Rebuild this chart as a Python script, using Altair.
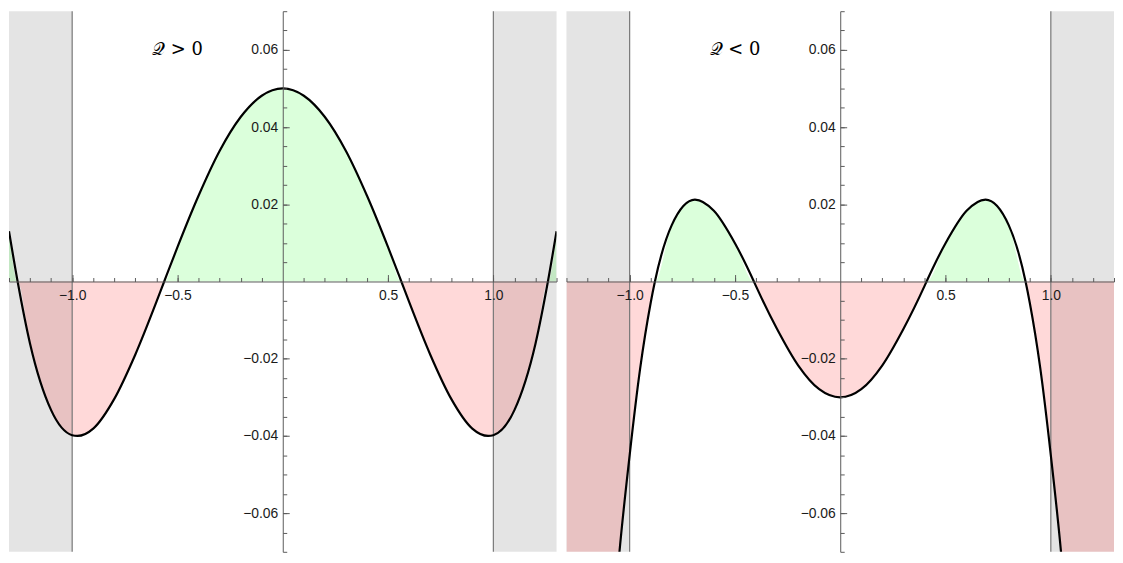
import altair as alt
import pandas as pd
import numpy as np

# ---------------- data ----------------
# Panel 1  (Q > 0)
left_x = [-1.3, -1.259, -1.2, -1.1, -1.0, -0.975, -0.9, -0.8, -0.7, -0.6, -0.563,
          -0.5, -0.4, -0.3, -0.2, -0.1, 0.0, 0.1, 0.2, 0.3, 0.4, 0.5, 0.563,
          0.6, 0.7, 0.8, 0.9, 0.975, 1.0, 1.1, 1.2, 1.259, 1.3]
left_y = [0.013, 0.0, -0.0161, -0.0333, -0.0398, -0.0400, -0.0381, -0.0304, -0.0189, -0.0053, 0.0,
          0.0089, 0.0222, 0.0338, 0.0426, 0.0481, 0.0500, 0.0481, 0.0426, 0.0338, 0.0222, 0.0089, 0.0,
          -0.0053, -0.0189, -0.0304, -0.0381, -0.0400, -0.0398, -0.0333, -0.0161, 0.0, 0.013]

# Panel 2  (Q < 0)
right_x = [-1.3, -1.2, -1.1, -1.05, -1.0, -0.95, -0.9, -0.88, -0.8, -0.69, -0.6, -0.5,
           -0.41, -0.4, -0.3, -0.2, -0.1, 0.0, 0.1, 0.2, 0.3, 0.4, 0.41, 0.5, 0.6,
           0.69, 0.8, 0.88, 0.9, 0.95, 1.0, 1.05, 1.1, 1.2, 1.3]
right_y = [-0.321, -0.195, -0.105, -0.071, -0.045, -0.0225, -0.0055, 0.0, 0.0146, 0.0212, 0.0183, 0.0099,
           0.0, -0.0012, -0.0123, -0.0217, -0.0279, -0.0300, -0.0279, -0.0217, -0.0123, -0.0012, 0.0, 0.0099, 0.0183,
           0.0212, 0.0146, 0.0, -0.0055, -0.0225, -0.045, -0.071, -0.105, -0.195, -0.321]

panel_titles = ["𝒬 > 0", "𝒬 < 0"]
title_x = [-0.5, -0.5]
title_y = [0.06, 0.06]

shade_lo = [-1.3, 1.0]
shade_hi = [-1.0, 1.3]
vlines = [-1.0, 1.0]

x_minor = [-1.3, -1.2, -1.1, -1.0, -0.9, -0.8, -0.7, -0.6, -0.5, -0.4, -0.3, -0.2, -0.1,
           0.1, 0.2, 0.3, 0.4, 0.5, 0.6, 0.7, 0.8, 0.9, 1.0, 1.1, 1.2, 1.3]
x_major = [-1.0, -0.5, 0.5, 1.0]
y_minor = [-0.07, -0.065, -0.06, -0.055, -0.05, -0.045, -0.04, -0.035, -0.03, -0.025, -0.02,
           -0.015, -0.01, -0.005, 0.005, 0.01, 0.015, 0.02, 0.025, 0.03, 0.035, 0.04, 0.045,
           0.05, 0.055, 0.06, 0.065, 0.07]
y_major = [-0.06, -0.04, -0.02, 0.02, 0.04, 0.06]

X_DOM = [-1.3, 1.3]
Y_DOM = [-0.07, 0.07]

# ---------------- layout / style ----------------
W, H = 552, 545
AX = "#5a5a5a"
LBL = dict(labelFont="Liberation Sans", labelFontSize=14, labelColor="#1a1a1a",
           labelOverlap=False, labelFlush=False)


def panel(xs, ys, ttl, tx, ty):
    df = pd.DataFrame({"x": xs, "y": ys})
    df["pos"] = np.maximum(df["y"], 0.0)
    df["neg"] = np.minimum(df["y"], 0.0)

    xsc = alt.Scale(domain=X_DOM, nice=False, zero=False)
    ysc = alt.Scale(domain=Y_DOM, nice=False, zero=False)

    # axes drawn through the origin (minor ticks, major ticks, labels)
    x_ax_minor = alt.Axis(orient="top", offset=-H / 2, values=x_minor, tickSize=4, tickColor=AX,
                          tickWidth=1, labels=False, domain=True, domainColor=AX, domainWidth=1,
                          grid=False, title=None, zindex=1)
    x_ax_major = alt.Axis(orient="top", offset=-H / 2, values=x_major, tickSize=7, tickColor=AX,
                          tickWidth=1, labels=False, domain=False, grid=False, title=None, zindex=1)
    x_ax_lab = alt.Axis(orient="bottom", offset=-H / 2, values=x_major, ticks=False, tickSize=0,
                        domain=False, grid=False, title=None, format=".1f", labelPadding=7,
                        zindex=1, **LBL)
    y_ax_minor = alt.Axis(orient="right", offset=-W / 2, values=y_minor, tickSize=4, tickColor=AX,
                          tickWidth=1, labels=False, domain=True, domainColor=AX, domainWidth=1,
                          grid=False, title=None, zindex=1)
    y_ax_major = alt.Axis(orient="right", offset=-W / 2, values=y_major, tickSize=6.5, tickColor=AX,
                          tickWidth=1, labels=False, domain=False, grid=False, title=None, zindex=1)
    y_ax_lab = alt.Axis(orient="left", offset=-W / 2, values=y_major, ticks=False, tickSize=0,
                        domain=False, grid=False, title=None, format=".2f", labelPadding=5,
                        zindex=1, **LBL)

    shade = alt.Chart(pd.DataFrame({"lo": shade_lo, "hi": shade_hi})).mark_rect(
        color="#E4E4E4", opacity=1
    ).encode(
        x=alt.X("lo:Q", scale=xsc, axis=None),
        x2="hi:Q",
        y=alt.YDatum(Y_DOM[0], scale=ysc, axis=None),
        y2=alt.datum(Y_DOM[1]),
    )

    base = alt.Chart(df)
    green = base.mark_area(color="#00FF00", opacity=0.14, interpolate="monotone", clip=True).encode(
        x=alt.X("x:Q", scale=xsc, axis=x_ax_minor),
        y=alt.Y("pos:Q", scale=ysc, axis=y_ax_minor),
        y2=alt.datum(0),
    )
    red = base.mark_area(color="#FF0000", opacity=0.15, interpolate="monotone", clip=True).encode(
        x=alt.X("x:Q", scale=xsc, axis=x_ax_major),
        y=alt.Y("neg:Q", scale=ysc, axis=y_ax_major),
        y2=alt.datum(0),
    )
    rules = alt.Chart(pd.DataFrame({"v": vlines})).mark_rule(color="#777777", strokeWidth=1.2).encode(
        x=alt.X("v:Q", scale=xsc, axis=None)
    )
    curve = base.mark_line(color="black", strokeWidth=2.2, interpolate="monotone", clip=True).encode(
        x=alt.X("x:Q", scale=xsc, axis=x_ax_lab),
        y=alt.Y("y:Q", scale=ysc, axis=y_ax_lab),
    )
    label = alt.Chart(pd.DataFrame({"tx": [tx], "ty": [ty], "t": [ttl]})).mark_text(
        font="DejaVu Serif", fontSize=18, color="black"
    ).encode(
        x=alt.X("tx:Q", scale=xsc, axis=None),
        y=alt.Y("ty:Q", scale=ysc, axis=None),
        text="t:N",
    )
    return alt.layer(shade, green, red, rules, curve, label).properties(
        width=W, height=H
    ).resolve_axis(x="independent", y="independent")


left = panel(left_x, left_y, panel_titles[0], title_x[0], title_y[0])
right = panel(right_x, right_y, panel_titles[1], title_x[1], title_y[1])

chart = alt.hconcat(left, right, spacing=8).properties(padding=0).configure_view(stroke=None)

chart.save("out.html", embed_options={"renderer": "svg", "actions": False})
